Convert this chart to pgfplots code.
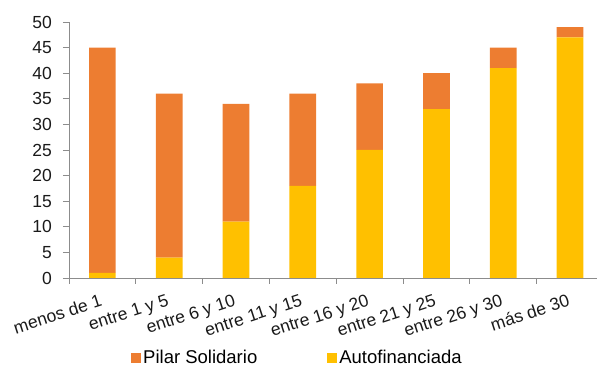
\documentclass[border=0pt]{standalone}
\usepackage{fontspec}
\setmainfont{Liberation Sans}
\usepackage{pgfplots}
\usepackage{pgfplotstable}
\pgfplotsset{compat=1.18}
\definecolor{pilar}{HTML}{ED7D31}
\definecolor{autof}{HTML}{FFC000}
\definecolor{axisgray}{HTML}{8C8C8C}
\definecolor{labelcol}{HTML}{1A1A1A}

% Años de cotización: pensión autofinanciada y aporte del pilar solidario
\pgfplotstableread{
x auto pilar
0 1  44
1 4  32
2 11 23
3 18 18
4 25 13
5 33 7
6 41 4
7 47 2
}\pensiones

\begin{document}
\fontsize{17.5}{20}\selectfont
\begin{tikzpicture}
\begin{axis}[
  scale only axis,
  width=534.4pt, height=256pt,
  ybar stacked, bar width=26.7pt,
  xmin=-0.5, xmax=7.5, ymin=0, ymax=50,
  axis lines*=left,
  axis line style={draw=axisgray, line width=0.8pt},
  tick style={draw=axisgray, line width=0.8pt},
  major tick length=6pt,
  tick align=outside,
  ytick={0,5,...,50},
  xtick={-0.5,0.5,...,7.5},
  x tick label as interval,
  xticklabels={menos de 1, entre 1 y 5, entre 6 y 10, entre 11 y 15,
               entre 16 y 20, entre 21 y 25, entre 26 y 30, más de 30},
  xticklabel style={rotate=18, anchor=north east, inner sep=1pt,
                    xshift=-5pt, yshift=-7pt, text=labelcol,
                    font=\fontsize{17.5}{20}\selectfont},
  yticklabel style={text=labelcol, font=\fontsize{17.5}{20}\selectfont, xshift=-5pt},
  /pgf/number format/assume math mode=true,
  reverse legend,
  legend columns=2,
  legend style={draw=none, fill=none, inner sep=0pt,
                at={(rel axis cs:0,0)}, anchor=west,
                xshift=62pt, yshift=-80pt,
                font=\fontsize{18.5}{21}\selectfont,
                /tikz/every even column/.append style={column sep=68pt}},
  legend image code/.code={\fill[#1] (0pt,-5pt) rectangle (10pt,5pt);},
]
\addplot[fill=autof, draw=none] table[x=x, y=auto] {\pensiones};
\addplot[fill=pilar, draw=none] table[x=x, y=pilar] {\pensiones};
\legend{Autofinanciada, Pilar Solidario}
\coordinate (o) at (rel axis cs:0,0);
\end{axis}
\pgfresetboundingbox
\path ([xshift=-69pt, yshift=-88pt]o) rectangle ([xshift=528pt, yshift=278pt]o);
\end{tikzpicture}
\end{document}
